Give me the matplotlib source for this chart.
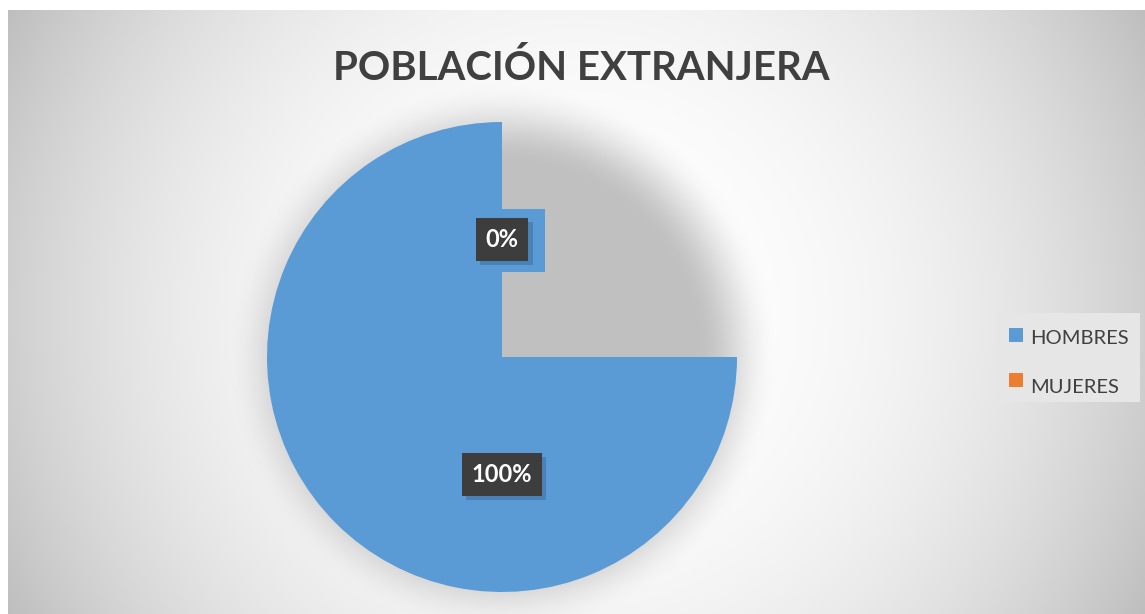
import numpy as np
import matplotlib
matplotlib.use("Agg")
import matplotlib.pyplot as plt
from matplotlib import patheffects
from matplotlib.patches import Rectangle

# ---- data ----
title = "POBLACIÓN EXTRANJERA"
categories = ["HOMBRES", "MUJERES"]
values = [100, 0]
colors = ["#5B9BD5", "#ED7D31"]

W, H = 1145, 614
fig = plt.figure(figsize=(W / 100, H / 100), dpi=100)
fig.patch.set_facecolor("white")
ax = fig.add_axes([0, 0, 1, 1])

# ---- background radial gradient ----
yy, xx = np.mgrid[0:H, 0:W].astype(float)
r = np.hypot(xx - 576, yy - 312)
val = (255 - 64 * (r / 640) ** 2.4) / 255
bg = np.dstack([val, val, val])
bg[:10, :] = 1
bg[:, :8] = 1
ax.imshow(bg, extent=(0, W, 0, H), origin="upper", zorder=0, interpolation="bilinear")

# ---- pie shadow ----
pcx, pcy_px, R = 502, 357, 235
rs = np.hypot(xx - pcx, yy - pcy_px)
t = np.clip((rs - 195) / 80, 0, 1)
alpha = 1 - t * t * (3 - 2 * t)
sh = np.zeros((H, W, 4))
sh[..., :3] = 0.745
sh[..., 3] = alpha * 0.95
sh[:10, :, 3] = 0
sh[:, :8, 3] = 0
ax.imshow(sh, extent=(0, W, 0, H), origin="upper", zorder=1, interpolation="bilinear")

# ---- pie ----
wedges, texts, autotexts = ax.pie(
    values, colors=colors, startangle=90, counterclock=True,
    center=(pcx, H - pcy_px), radius=R, autopct="%1.0f%%", pctdistance=0.5,
    frame=True, wedgeprops=dict(linewidth=0, zorder=2),
    textprops=dict(color="white", fontweight="bold", fontsize=17,
                   family="Lato", zorder=6))
# reproduce the reference rendering: first slice drawn as three quarters
wedges[0].set_theta2(360)

# small blue block behind the 0% label (rendering artifact in reference)
lx, ly = autotexts[1].get_position()
ax.add_patch(Rectangle((lx, ly - 32), 43, 63, color=colors[0], zorder=3, lw=0))

for at in autotexts:
    at.set_bbox(dict(boxstyle="square,pad=0.42", fc="#3d3d3d", ec="none"))
    at.get_bbox_patch().set_path_effects([
        patheffects.withSimplePatchShadow(offset=(3, -3), shadow_rgbFace="#1e3a5c", alpha=0.25),
        patheffects.Normal()])

# ---- title ----
tt = ax.text(581, H - 80, title, ha="center", va="baseline", fontsize=36,
             fontweight="bold", family="Lato", color="#404040", zorder=7)
fig.canvas.draw()
w = tt.get_window_extent().width
tt.set_fontsize(36 * 497 / w)

# ---- legend ----
ax.add_patch(Rectangle((997, H - 402), 143, 89, fc="#e6e6e6", ec="none", zorder=4))
sq_top = [328, 373]
base = [344, 393]
for name, col, st, b in zip(categories, colors, sq_top, base):
    ax.add_patch(Rectangle((1009, H - st - 14), 14, 14, fc=col, ec="none", zorder=5))
    ax.text(1030, H - b, name, ha="left", va="baseline", fontsize=14.5,
            family="Lato", color="#404040", zorder=5)

ax.set_xlim(0, W)
ax.set_ylim(0, H)
ax.set_aspect("auto")
ax.axis("off")
fig.savefig("out.png", dpi=100)
